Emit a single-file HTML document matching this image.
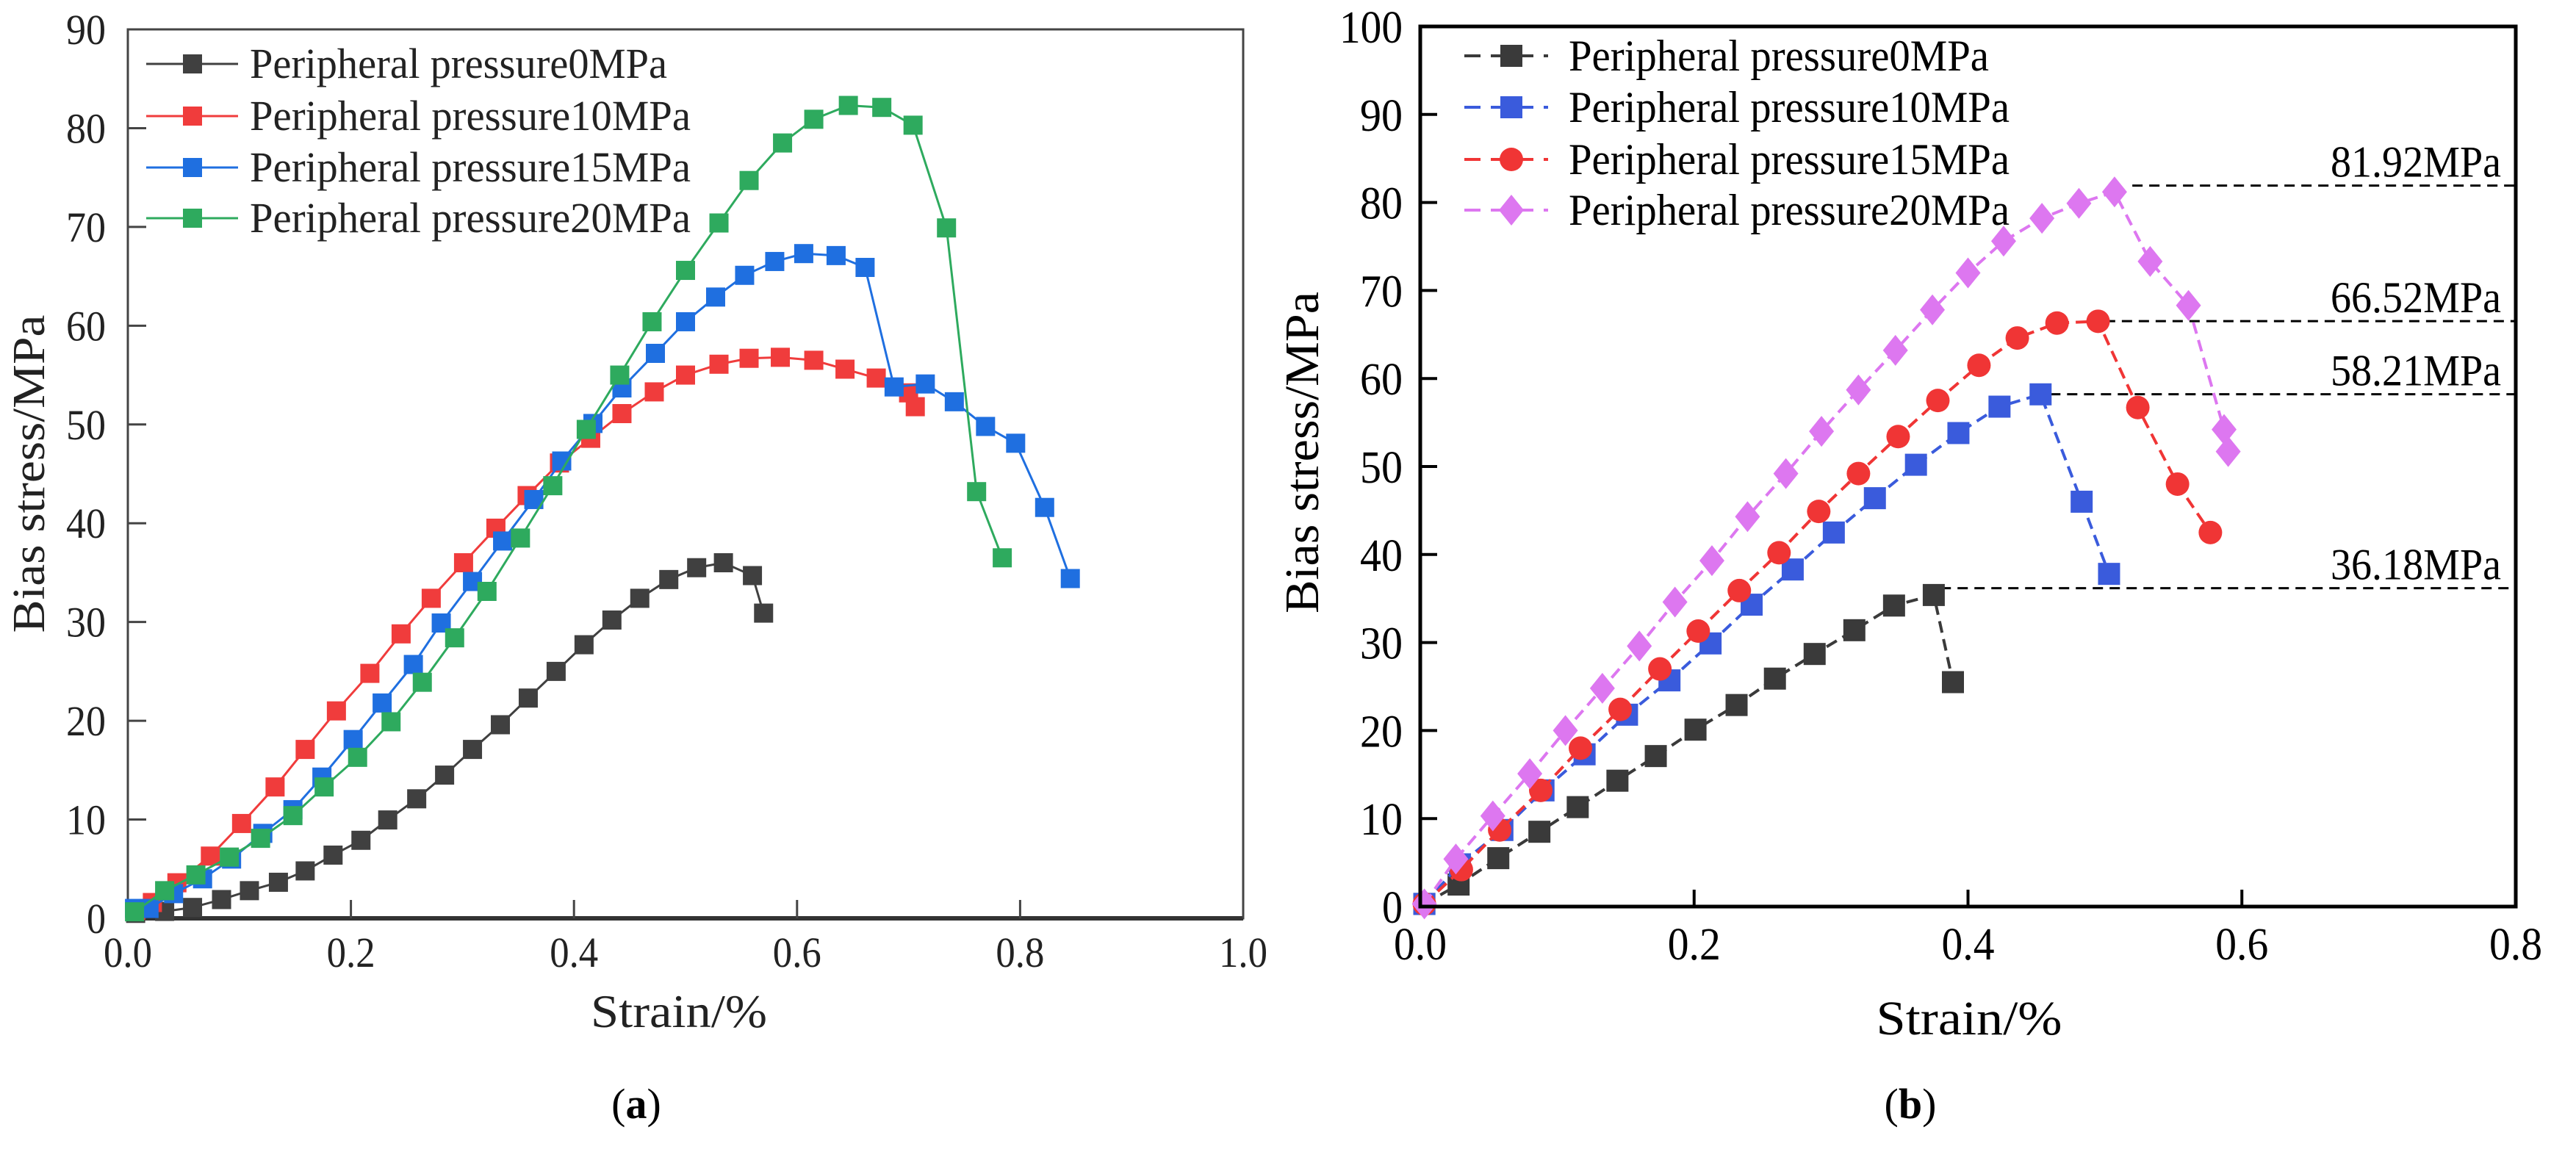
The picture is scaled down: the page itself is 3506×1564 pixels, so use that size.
<!DOCTYPE html>
<html><head><meta charset="utf-8"><style>
html,body{margin:0;padding:0;background:#fff;}
svg{display:block;font-family:"Liberation Serif",serif;}
</style></head><body>
<svg id="fig" width="3506" height="1564" viewBox="0 0 3506 1564" xmlns="http://www.w3.org/2000/svg">
<rect width="3506" height="1564" fill="#fff"/>
<g id="chartA"></g>
<g id="chartB"></g>
<text x="866" y="1522" font-size="58" text-anchor="middle">(<tspan font-weight="bold">a</tspan>)</text>
<text x="2600" y="1522" font-size="58" text-anchor="middle">(<tspan font-weight="bold">b</tspan>)</text>
</svg>
<script>
// ---------- Chart A data ----------
const aXTicks = [0.0, 0.2, 0.4, 0.6, 0.8, 1.0];
const aYTicks = [0, 10, 20, 30, 40, 50, 60, 70, 80, 90];
const aNames = ["Peripheral pressure0MPa","Peripheral pressure10MPa","Peripheral pressure15MPa","Peripheral pressure20MPa"];
const a0x = [0.007,0.033,0.058,0.084,0.109,0.135,0.159,0.184,0.209,0.233,0.259,0.284,0.309,0.334,0.359,0.384,0.409,0.434,0.459,0.485,0.510,0.534,0.560,0.570];
const a0y = [0.5,0.7,1.1,1.9,2.8,3.65,4.8,6.4,7.9,9.96,12.1,14.5,17.1,19.6,22.3,25.0,27.7,30.2,32.4,34.3,35.5,36.0,34.7,30.9];
const a10x = [0.007,0.022,0.044,0.074,0.102,0.132,0.159,0.187,0.217,0.245,0.272,0.301,0.330,0.358,0.387,0.415,0.443,0.472,0.500,0.530,0.557,0.585,0.615,0.643,0.671,0.700,0.706];
const a10y = [0.8,1.6,3.6,6.3,9.6,13.3,17.1,21.0,24.8,28.8,32.4,36.0,39.5,42.8,46.1,48.6,51.1,53.3,55.0,56.1,56.7,56.8,56.5,55.6,54.7,53.2,51.8];
const a15x = [0.006,0.019,0.041,0.067,0.093,0.121,0.148,0.174,0.202,0.228,0.256,0.281,0.309,0.336,0.364,0.389,0.417,0.443,0.473,0.500,0.527,0.553,0.580,0.606,0.635,0.661,0.687,0.715,0.741,0.769,0.796,0.822,0.845];
const a15y = [1.0,1.0,2.5,4.0,6.0,8.6,11.0,14.3,18.1,21.8,25.7,29.9,34.1,38.2,42.4,46.3,50.1,53.7,57.2,60.4,62.9,65.1,66.5,67.3,67.1,65.9,53.8,54.1,52.3,49.8,48.1,41.6,34.4];
const a20x = [0.006,0.033,0.061,0.091,0.119,0.148,0.176,0.206,0.236,0.264,0.293,0.322,0.352,0.381,0.411,0.441,0.470,0.500,0.530,0.557,0.587,0.615,0.646,0.676,0.704,0.734,0.761,0.784];
const a20y = [0.66,2.8,4.4,6.2,8.1,10.4,13.3,16.3,19.9,23.9,28.4,33.1,38.5,43.8,49.5,55.0,60.4,65.6,70.4,74.7,78.5,80.9,82.3,82.1,80.3,69.9,43.2,36.5];

// ---------- Chart B data ----------
const bXTicks = [0.0, 0.2, 0.4, 0.6, 0.8];
const bYTicks = [0, 10, 20, 30, 40, 50, 60, 70, 80, 90, 100];
const bNames = ["Peripheral pressure0MPa","Peripheral pressure10MPa","Peripheral pressure15MPa","Peripheral pressure20MPa"];
const b0x = [0.003,0.028,0.057,0.087,0.115,0.144,0.172,0.201,0.231,0.259,0.288,0.317,0.346,0.375,0.389];
const b0y = [0.3,2.5,5.5,8.5,11.3,14.3,17.1,20.1,22.9,25.9,28.7,31.4,34.2,35.4,25.5];
const b10x = [0.003,0.029,0.060,0.090,0.120,0.151,0.182,0.212,0.242,0.272,0.302,0.332,0.362,0.393,0.423,0.453,0.483,0.503];
const b10y = [0.3,4.8,8.7,13.2,17.3,21.8,25.7,29.9,34.3,38.3,42.5,46.4,50.2,53.8,56.8,58.2,46.0,37.8];
const b15x = [0.003,0.030,0.058,0.088,0.117,0.146,0.175,0.203,0.233,0.262,0.291,0.320,0.349,0.378,0.408,0.436,0.465,0.495,0.524,0.553,0.577];
const b15y = [0.3,4.2,8.7,13.2,18.0,22.4,27.0,31.3,35.9,40.2,44.9,49.2,53.4,57.5,61.5,64.6,66.3,66.5,56.7,48.0,42.5];
const b20x = [0.003,0.026,0.053,0.080,0.106,0.133,0.160,0.186,0.213,0.239,0.267,0.293,0.320,0.347,0.374,0.400,0.426,0.454,0.481,0.507,0.533,0.561,0.587,0.590];
const b20y = [0.3,5.4,10.3,15.1,20.0,24.8,29.6,34.6,39.3,44.3,49.2,54.0,58.7,63.2,67.8,72.0,75.6,78.2,79.9,81.2,73.3,68.3,54.2,51.7];
const bPeaks = [36.18, 58.21, 66.52, 81.92];
const bPeakStartX = [0.38, 0.46, 0.50, 0.52];
const bPeakLabels = ["36.18MPa","58.21MPa","66.52MPa","81.92MPa"];

const NS = "http://www.w3.org/2000/svg";
function mk(tag, attrs, parent){ const e=document.createElementNS(NS,tag); for(const k in attrs) e.setAttribute(k,attrs[k]); parent.appendChild(e); return e; }

// ---------- Chart A ----------
(function(){
  const g = document.getElementById('chartA');
  const L=174,R=1692,T=40,B=1250;
  const sx=v=>L+v/1.0*(R-L), sy=v=>B-v/90*(B-T);
  const cols=["#404040","#f03c3c","#1f6fe0","#2eaa5e"];
  const frame=mk('rect',{x:L,y:T,width:R-L,height:B-T,fill:'none',stroke:'#444','stroke-width':3},g);
  
  
  mk('line',{x1:L,y1:B,x2:R,y2:B,stroke:'#333','stroke-width':6},g);
  aXTicks.forEach(v=>{
    const t=mk('line',{x1:sx(v),y1:B,x2:sx(v),y2:B-25,stroke:'#444','stroke-width':3},g);
    
    
    const l=mk('text',{x:sx(v),y:B+66,'font-size':58,'text-anchor':'middle',fill:'#222',textLength:66,lengthAdjust:'spacingAndGlyphs'},g);
    l.textContent=v.toFixed(1);
    
    
  });
  aYTicks.forEach(v=>{
    const t=mk('line',{x1:L,y1:sy(v),x2:L+25,y2:sy(v),stroke:'#444','stroke-width':3},g);
    
    
    const l=mk('text',{x:L-30,y:sy(v)+20,'font-size':58,'text-anchor':'end',fill:'#222',textLength:(v<10?26:54),lengthAdjust:'spacingAndGlyphs'},g);
    l.textContent=String(v);
    
    
  });
  const xt=mk('text',{x:924,y:1398,'font-size':64,'text-anchor':'middle',fill:'#222',textLength:240,lengthAdjust:'spacingAndGlyphs'},g);
  xt.textContent='Strain/%';
  
  
  const yt=mk('text',{x:0,y:0,'font-size':62,'text-anchor':'middle',fill:'#222',transform:'translate(60,645) rotate(-90)',textLength:433,lengthAdjust:'spacingAndGlyphs'},g);
  yt.textContent='Bias stress/MPa';
  
  
  const xs=[a0x,a10x,a15x,a20x], ys=[a0y,a10y,a15y,a20y];
  [0,1,2,3].forEach(i=>{
    const pts=xs[i].map((x,j)=>sx(x)+','+sy(ys[i][j])).join(' ');
    const pl=mk('polyline',{points:pts,fill:'none',stroke:cols[i],'stroke-width':3},g);
    
    
    xs[i].forEach((x,j)=>{
      const m=mk('rect',{x:sx(x)-13,y:sy(ys[i][j])-13,width:26,height:26,fill:cols[i]},g);
      
      
    });
  });
  const ly=[87,158,228,297];
  aNames.forEach((n,i)=>{
    const ln=mk('line',{x1:199,y1:ly[i],x2:324,y2:ly[i],stroke:cols[i],'stroke-width':3},g);
    
    
    const m=mk('rect',{x:249,y:ly[i]-13,width:26,height:26,fill:cols[i]},g);
    
    
    const t=mk('text',{x:340,y:ly[i]+19,'font-size':58,fill:'#222',textLength:(i==0?568:600),lengthAdjust:'spacingAndGlyphs'},g);
    t.textContent=n;
    
    
  });
})();

// ---------- Chart B ----------
(function(){
  const g = document.getElementById('chartB');
  const L=1933,R=3424,T=36,B=1234;
  const sx=v=>L+v/0.8*(R-L), sy=v=>B-v/100*(B-T);
  const cols=["#3a3a3a","#3a5bdc","#f03535","#dd77f0"];
  bXTicks.forEach(v=>{
    const t=mk('line',{x1:sx(v),y1:B,x2:sx(v),y2:B-23,stroke:'#000','stroke-width':4},g);
    
    
    const l=mk('text',{x:sx(v),y:B+72,'font-size':62,'text-anchor':'middle',fill:'#000',textLength:72,lengthAdjust:'spacingAndGlyphs'},g);
    l.textContent=v.toFixed(1);
    
    
  });
  bYTicks.forEach(v=>{
    const t=mk('line',{x1:L,y1:sy(v),x2:L+23,y2:sy(v),stroke:'#000','stroke-width':4},g);
    
    
    const l=mk('text',{x:L-24,y:sy(v)+22,'font-size':62,'text-anchor':'end',fill:'#000',textLength:(v<10?28:(v<100?58:86)),lengthAdjust:'spacingAndGlyphs'},g);
    l.textContent=String(v);
    
    
  });
  const xt=mk('text',{x:2680,y:1408,'font-size':66,'text-anchor':'middle',fill:'#000',textLength:253,lengthAdjust:'spacingAndGlyphs'},g);
  xt.textContent='Strain/%';
  
  
  const yt=mk('text',{x:0,y:0,'font-size':66,'text-anchor':'middle',fill:'#000',transform:'translate(1794,616) rotate(-90)',textLength:438,lengthAdjust:'spacingAndGlyphs'},g);
  yt.textContent='Bias stress/MPa';
  
  
  bPeaks.forEach((p,i)=>{
    const d=mk('line',{x1:sx(bPeakStartX[i]),y1:sy(p),x2:R,y2:sy(p),stroke:'#000','stroke-width':3,'stroke-dasharray':'14,9'},g);
    
    
    const t=mk('text',{x:R-20,y:sy(p)-12,'font-size':60,'text-anchor':'end',fill:'#000',textLength:232,lengthAdjust:'spacingAndGlyphs'},g);
    t.textContent=bPeakLabels[i];
    
    
  });
  function marker(i,cx,cy,scale){
    let m;
    if(i<2){ m=mk('rect',{x:cx-15*scale,y:cy-15*scale,width:30*scale,height:30*scale,fill:cols[i]},g); }
    else if(i==2){ m=mk('circle',{cx:cx,cy:cy,r:16*scale,fill:cols[i]},g); }
    else { m=mk('polygon',{points:`${cx},${cy-21*scale} ${cx+17*scale},${cy} ${cx},${cy+21*scale} ${cx-17*scale},${cy}`,fill:cols[i]},g); }
    return m;
  }
  const xs=[b0x,b10x,b15x,b20x], ys=[b0y,b10y,b15y,b20y];
  [0,1,2,3].forEach(i=>{
    const pts=xs[i].map((x,j)=>sx(x)+','+sy(ys[i][j])).join(' ');
    const pl=mk('polyline',{points:pts,fill:'none',stroke:cols[i],'stroke-width':4,'stroke-dasharray':'16,9'},g);
    
    
    xs[i].forEach((x,j)=>{
      const m=marker(i,sx(x),sy(ys[i][j]),1);
      
      
    });
  });
  const frame=mk('rect',{x:L,y:T,width:R-L,height:B-T,fill:'none',stroke:'#000','stroke-width':5},g);
  
  
  const ly=[76,146,217,286];
  bNames.forEach((n,i)=>{
    const ln=mk('line',{x1:1993,y1:ly[i],x2:2107,y2:ly[i],stroke:cols[i],'stroke-width':4,'stroke-dasharray':'22,14'},g);
    
    
    const m=marker(i,2057,ly[i],1);
    
    
    const t=mk('text',{x:2135,y:ly[i]+20,'font-size':60,fill:'#000',textLength:(i==0?572:600),lengthAdjust:'spacingAndGlyphs'},g);
    t.textContent=n;
    
    
  });
})();
</script>
</body></html>
